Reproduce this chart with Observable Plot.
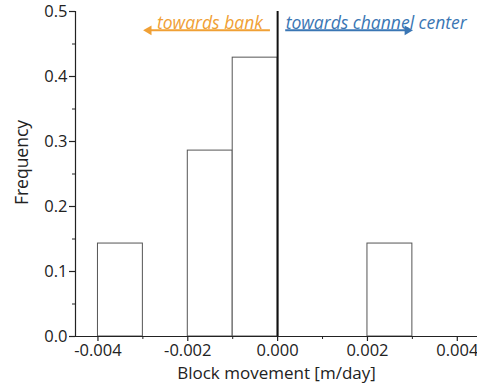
<!DOCTYPE html>
<html>
<head>
<meta charset="utf-8">
<script src="https://cdn.jsdelivr.net/npm/d3@7"></script>
<script src="https://cdn.jsdelivr.net/npm/@observablehq/plot@0.6"></script>
<style>
  html, body { margin: 0; padding: 0; background: #fff; }
  #chart svg { display: block; }
</style>
</head>
<body>
<div id="chart"></div>
<script>
// Histogram bins of block movement (m/day) and their relative frequency
const binStart = [-0.004, -0.002, -0.001, 0.002];
const binEnd   = [-0.003, -0.001,  0.000, 0.003];
const frequency = [0.143, 0.286, 0.429, 0.143];

// Axis ticks
const xTicks = [-0.004, -0.002, 0, 0.002, 0.004];
const xMinorTicks = [-0.003, -0.001, 0.001, 0.003];
const yTicks = [0, 0.1, 0.2, 0.3, 0.4, 0.5];
const yMinorTicks = [0.05, 0.15, 0.25, 0.35, 0.45];

// Direction annotations: label, arrow start/end (m/day), height (frequency units)
const dirLabels = ["towards bank", "towards channel center"];
const dirTextX = [-0.00033, 0.00018];
const dirArrowFrom = [-0.00016, 0.00018];
const dirArrowTo = [-0.00287, 0.00289];
const dirTextY = 0.482;
const dirArrowY = 0.471;
const dirColors = ["#F0A035", "#3A76B4"];

const bins = binStart.map((x1, i) => ({x1, x2: binEnd[i], y: frequency[i]}));
const dirs = dirLabels.map((label, i) => ({
  label,
  tx: dirTextX[i],
  x1: dirArrowFrom[i],
  x2: dirArrowTo[i],
  color: dirColors[i],
  rotate: i === 0 ? -90 : 90
}));

const xMin = -0.0045, xMax = 0.00445;
const font = "'Open Sans', 'DejaVu Sans', sans-serif";
const ink = "#222";
const tickFont = 16.5;

const chart = Plot.plot({
  width: 477,
  height: 388,
  marginLeft: 75,
  marginRight: 0,
  marginTop: 11,
  marginBottom: 52,
  style: {fontFamily: font, fontSize: "16px", color: ink, background: "#fff"},
  x: {domain: [xMin, xMax]},
  y: {domain: [0, 0.5]},
  marks: [
    // bars
    Plot.rectY(bins, {x1: "x1", x2: "x2", y: "y", fill: "white", stroke: "#555", strokeWidth: 1}),
    // zero line
    Plot.ruleX([0], {y1: 0, y2: 0.5, stroke: "#111", strokeWidth: 2}),
    // tick marks (major and minor)
    Plot.axisX({ticks: xTicks, tickSize: 5, tickFormat: () => "", label: null, stroke: ink, strokeWidth: 1.2}),
    Plot.axisX({ticks: xMinorTicks, tickSize: 3, tickFormat: () => "", label: null, stroke: ink}),
    Plot.axisY({ticks: yTicks, tickSize: 6, tickFormat: () => "", label: null, stroke: ink, strokeWidth: 1.2}),
    Plot.axisY({ticks: yMinorTicks, tickSize: 3, tickFormat: () => "", label: null, stroke: ink}),
    // tick labels
    Plot.text(xTicks, {x: d => d, y: () => 0, text: d => d.toFixed(3), lineAnchor: "top", dy: 8, fill: ink, fontSize: tickFont}),
    Plot.text(yTicks, {x: () => xMin, y: d => d, text: d => d.toFixed(1), textAnchor: "end", lineAnchor: "middle", dx: -8, fill: ink, fontSize: tickFont}),
    // axis lines
    Plot.ruleY([0], {stroke: ink, strokeWidth: 1.2}),
    Plot.ruleX([xMin], {stroke: ink, strokeWidth: 1.2}),
    // axis titles
    Plot.text(["Block movement [m/day]"], {frameAnchor: "bottom", lineAnchor: "middle", textAnchor: "middle", dy: 37.5, fill: ink, fontSize: 17}),
    Plot.text(["Frequency"], {frameAnchor: "left", textAnchor: "middle", lineAnchor: "middle", dx: -53, dy: -11.5, rotate: -90, fill: ink, fontSize: 17.5}),
    // direction arrows and labels
    Plot.ruleY(dirs, {y: () => dirArrowY, x1: "x1", x2: "x2", stroke: "color", strokeWidth: 2}),
    Plot.dot(dirs, {x: "x2", y: () => dirArrowY, symbol: "triangle", r: 3.6, fill: "color", stroke: null, rotate: "rotate"}),
    Plot.text(dirs.slice(0, 1), {x: "tx", y: () => dirTextY, text: "label", fill: "color", textAnchor: "end", fontStyle: "italic", fontSize: 17.5}),
    Plot.text(dirs.slice(1), {x: "tx", y: () => dirTextY, text: "label", fill: "color", textAnchor: "start", fontStyle: "italic", fontSize: 17.5})
  ]
});

document.getElementById("chart").append(chart);
</script>
</body>
</html>
